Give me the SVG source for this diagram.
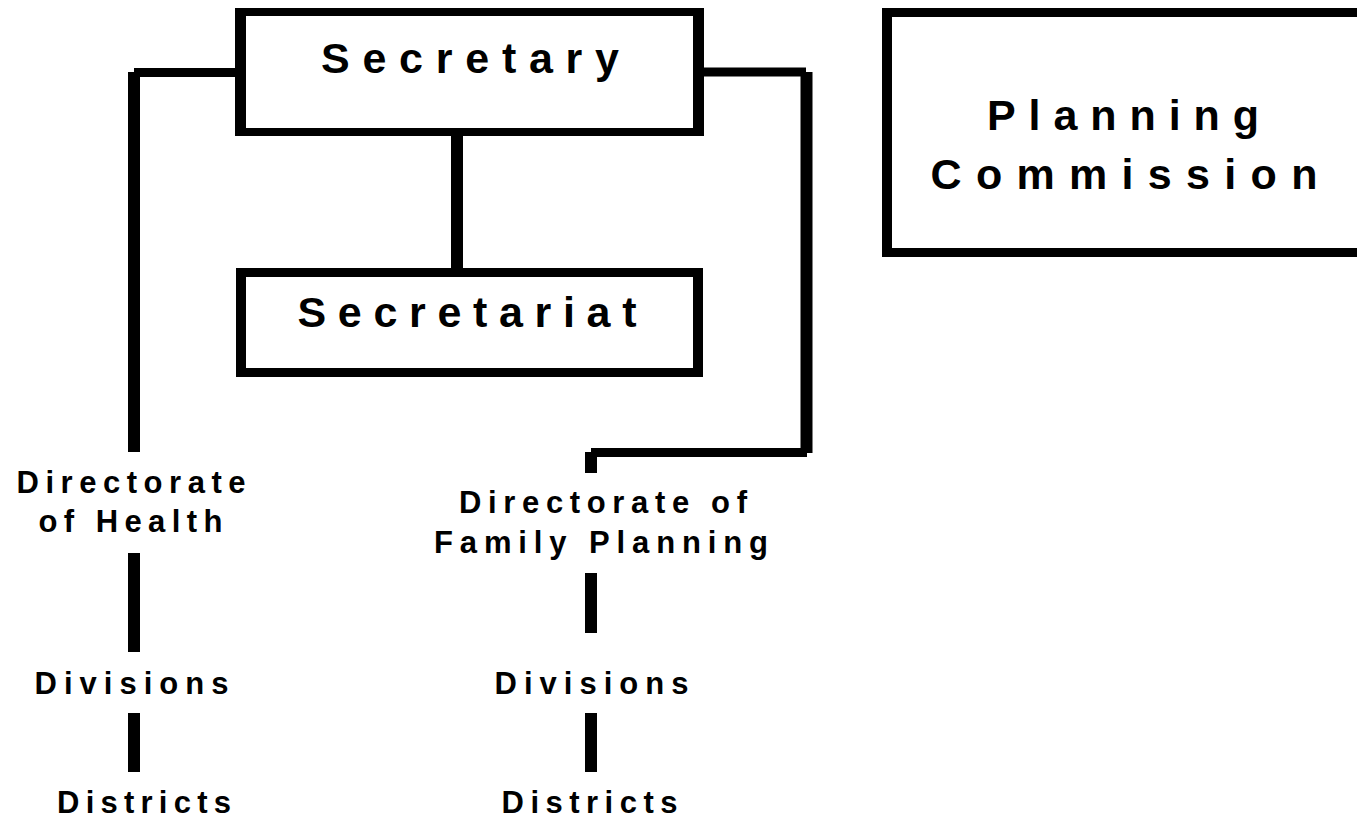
<svg xmlns="http://www.w3.org/2000/svg" width="1357" height="818" viewBox="0 0 1357 818">
<style>
.frame{fill:#000;fill-rule:evenodd;}
.inner{fill:#fff;}
.big{font-family:"Liberation Sans",Arial,sans-serif;font-weight:bold;font-size:43px;fill:#000;text-anchor:middle;}
.sm{font-family:"Liberation Sans",Arial,sans-serif;font-weight:bold;font-size:31px;fill:#000;text-anchor:middle;}
.h{stroke:#000;stroke-width:9;fill:none;}
.v{stroke:#000;stroke-width:12;fill:none;}
</style>
<rect width="1357" height="818" fill="#fff"/>
<g id="connectors">
  <line class="h" x1="134" y1="72.5" x2="236" y2="72.5"/>
  <line class="v" x1="134" y1="72" x2="134" y2="452"/>
  <line class="h" x1="703" y1="72" x2="806" y2="72"/>
  <line class="v" x1="806.5" y1="72" x2="806.5" y2="453"/>
  <line class="h" x1="807" y1="452.5" x2="591" y2="452.5"/>
  <line class="v" x1="591" y1="452" x2="591" y2="473"/>
  <line class="v" x1="457" y1="135" x2="457" y2="269"/>
  <line class="v" x1="134" y1="553" x2="134" y2="652"/>
  <line class="v" x1="134" y1="713" x2="134" y2="772"/>
  <line class="v" x1="591" y1="573" x2="591" y2="633"/>
  <line class="v" x1="591" y1="713" x2="591" y2="772"/>
</g>
<g id="secretary">
  <path class="frame" d="M235 8H704V136H235Z M246 16V128H693V16Z"/>
  <text class="big" x="470" y="73" textLength="298" lengthAdjust="spacing">Secretary</text>
</g>
<g id="secretariat">
  <path class="frame" d="M236 268H703V377H236Z M246 277V368H693V277Z"/>
  <text class="big" x="467" y="327" font-size="42" textLength="339" lengthAdjust="spacing">Secretariat</text>
</g>
<g id="planning-commission">
  <path class="frame" d="M882 8H1370V257H882Z M892 17V248H1370V17Z"/>
  <text class="big" x="1123" y="130" font-size="44" textLength="272" lengthAdjust="spacing">Planning</text>
  <text class="big" x="1124" y="189" font-size="44" textLength="387" lengthAdjust="spacing">Commission</text>
</g>
<g id="directorate-health">
  <text class="sm" x="131" y="493" textLength="229" lengthAdjust="spacing">Directorate</text>
  <text class="sm" x="130.5" y="532" textLength="184" lengthAdjust="spacing">of Health</text>
</g>
<g id="divisions-health">
  <text class="sm" x="131.5" y="694" textLength="194" lengthAdjust="spacing">Divisions</text>
</g>
<g id="districts-health">
  <text class="sm" x="144" y="813" textLength="174" lengthAdjust="spacing">Districts</text>
</g>
<g id="directorate-fp">
  <text class="sm" x="603" y="513" textLength="288" lengthAdjust="spacing">Directorate of</text>
  <text class="sm" x="601" y="553" textLength="334" lengthAdjust="spacing">Family Planning</text>
</g>
<g id="divisions-fp">
  <text class="sm" x="591.5" y="694" textLength="194" lengthAdjust="spacing">Divisions</text>
</g>
<g id="districts-fp">
  <text class="sm" x="589.5" y="813" textLength="176" lengthAdjust="spacing">Districts</text>
</g>
</svg>
